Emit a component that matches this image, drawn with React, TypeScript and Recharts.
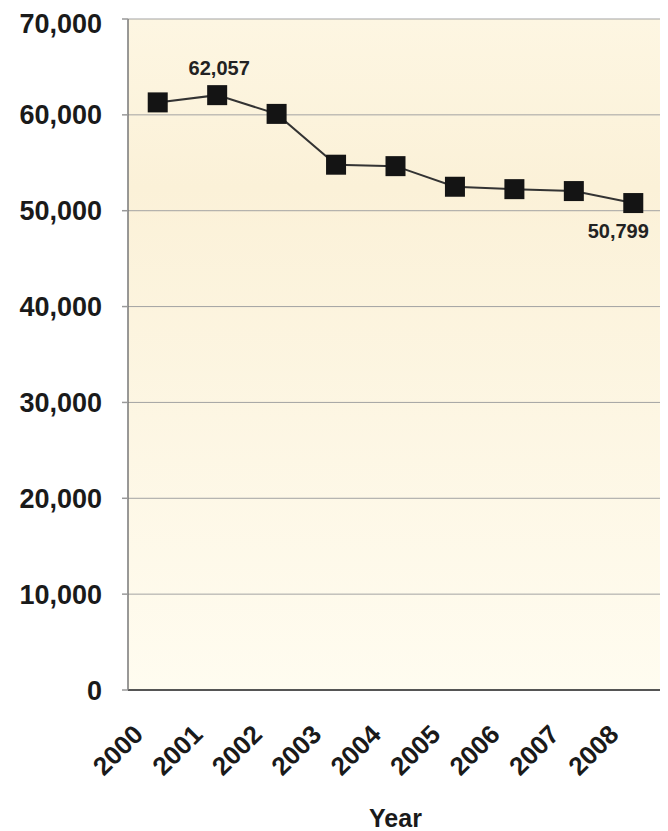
import React from "react";
import {
  LineChart,
  Line,
  XAxis,
  YAxis,
  CartesianGrid,
  LabelList,
} from "recharts";

const years = ["2000", "2001", "2002", "2003", "2004", "2005", "2006", "2007", "2008"];
const totals = [61300, 62057, 60100, 54800, 54650, 52500, 52250, 52050, 50799];
const yTicks = [0, 10000, 20000, 30000, 40000, 50000, 60000, 70000];
const labelledIdx = [1, 8];

const data = years.map((y, i) => ({ idx: i, year: y, value: totals[i] }));
const boundaryTicks = [...years.map((_, i) => i - 0.5), years.length - 0.5];
const centerTicks = years.map((_, i) => i);

const FONT = "'Liberation Sans', Arial, sans-serif";
const fmt = (v: number) => v.toLocaleString("en-US");

const SquareDot = (props: any) => {
  const { cx, cy } = props;
  if (cx == null || cy == null) return null;
  return <rect x={cx - 10} y={cy - 10} width={20} height={20} fill="#141414" />;
};

const YearTick = (props: any) => {
  const { x, y, payload } = props;
  const ax = x - 13;
  const ay = y + 38;
  return (
    <text
      x={ax}
      y={ay}
      transform={`rotate(-45, ${ax}, ${ay})`}
      textAnchor="end"
      fontFamily={FONT}
      fontWeight="bold"
      fontSize={26}
      fill="#1a1a1a"
    >
      {years[payload.value]}
    </text>
  );
};

const PointLabel = (props: any) => {
  const { x, y, index, value } = props;
  if (!labelledIdx.includes(index)) return null;
  const first = index === labelledIdx[0];
  return (
    <text
      x={first ? x + 2 : x - 15}
      y={first ? y - 20 : y + 35}
      textAnchor="middle"
      fontFamily={FONT}
      fontWeight="bold"
      fontSize={20}
      fill="#222"
    >
      {fmt(value)}
    </text>
  );
};

export default function App() {
  return (
    <LineChart
      width={660}
      height={823}
      data={data}
      margin={{ top: 11, right: 5, left: 0, bottom: 0 }}
    >
      <defs>
        <linearGradient id="paper" x1="0" y1="0" x2="0" y2="1">
          <stop offset="0%" stopColor="#FDF6E2" />
          <stop offset="25%" stopColor="#FBF1D8" />
          <stop offset="100%" stopColor="#FFFCF0" />
        </linearGradient>
      </defs>
      <CartesianGrid
        vertical={false}
        stroke="#a3a3a3"
        fill="url(#paper)"
        fillOpacity={1}
      />
      <XAxis
        xAxisId={0}
        type="number"
        dataKey="idx"
        domain={[-0.5, years.length - 0.5]}
        ticks={boundaryTicks}
        tick={false}
        tickSize={6}
        height={8}
        stroke="#555"
        strokeWidth={2}
        tickLine={{ stroke: "#888", strokeWidth: 1 }}
      />
      <XAxis
        xAxisId="labels"
        type="number"
        dataKey="idx"
        domain={[-0.5, years.length - 0.5]}
        ticks={centerTicks}
        tick={<YearTick />}
        tickLine={false}
        axisLine={false}
        tickSize={0}
        tickMargin={0}
        height={133}
        label={{
          value: "Year",
          position: "insideBottom",
          offset: 4,
          fontFamily: FONT,
          fontWeight: "bold",
          fontSize: 25,
          fill: "#1a1a1a",
        }}
      />
      <YAxis
        domain={[0, 70000]}
        ticks={yTicks}
        width={120}
        tickFormatter={fmt}
        tickSize={6}
        tickMargin={20}
        stroke="#777"
        strokeWidth={1.5}
        tick={{ fontFamily: FONT, fontWeight: "bold", fontSize: 27, fill: "#1a1a1a" }}
        tickLine={{ stroke: "#999" }}
      />
      <YAxis
        yAxisId="right"
        orientation="right"
        width={0}
        tick={false}
        tickLine={false}
        stroke="#8a8a8a"
      />
      <Line
        type="linear"
        dataKey="value"
        stroke="#333"
        strokeWidth={2}
        dot={<SquareDot />}
        activeDot={false}
        isAnimationActive={false}
      >
        <LabelList dataKey="value" content={<PointLabel />} />
      </Line>
    </LineChart>
  );
}
